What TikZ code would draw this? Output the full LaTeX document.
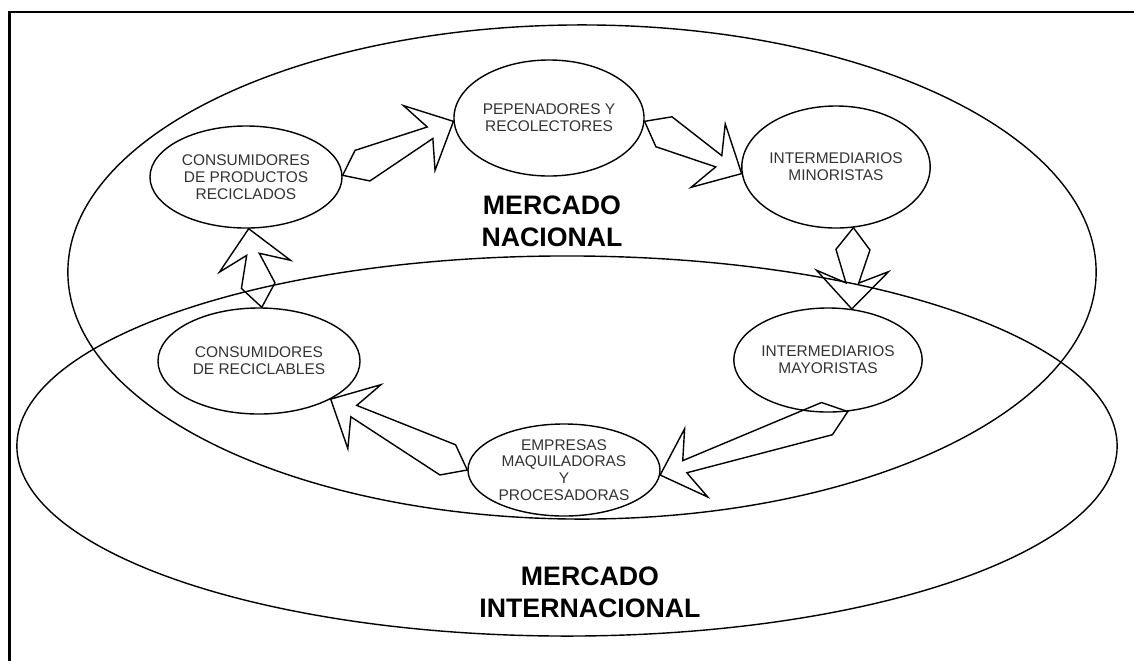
\documentclass[tikz,border=0pt]{standalone}
\usepackage{fontspec}
\setmainfont{Liberation Sans}
\usetikzlibrary{calc,shapes.geometric}

% flecha hueca: cola ancha, cuerpo y punta
\newcommand{\flechaBloque}[2]{%
  \draw[flecha] (#1)
    -- ($(#1)!5.5mm!(#2)!4.25mm!90:(#2)$)
    -- ($(#2)!6.5mm!(#1)!1.6mm!90:(#2)$)
    -- ($(#2)!9.5mm!(#1)!9mm!90:(#2)$)
    -- (#2)
    -- ($(#2)!9.5mm!(#1)!9mm!-90:(#2)$)
    -- ($(#2)!6.5mm!(#1)!1.6mm!-90:(#2)$)
    -- ($(#1)!5.5mm!(#2)!4.25mm!-90:(#2)$)
    -- cycle;}

\begin{document}
\begin{tikzpicture}[x=0.025cm,y=-0.025cm,
    elipse/.style={ellipse,draw,line width=1pt,inner sep=0pt,align=center,
      text=black!80,font=\fontsize{11}{12}\selectfont},
    mercado/.style={ellipse,draw,line width=1pt,inner sep=0pt},
    titulo/.style={align=center,font=\fontsize{19}{23}\selectfont\bfseries},
    flecha/.style={draw,line width=1pt,line join=miter}]
	\useasboundingbox (0,0) rectangle (1134,660);
	\draw[line width=1.6pt] (9.5,12) rectangle (1160,690);

	% mercados
	\node[mercado,minimum width=25.7cm,minimum height=12.35cm] (nac) at (582,272) {};
	\node[mercado,minimum width=27.5cm,minimum height=9.5cm] (int) at (567,446) {};
	\node[titulo] (tnac) at (552,221) {MERCADO\\NACIONAL};
	\node[titulo] (tint) at (590,592) {MERCADO\\INTERNACIONAL};

	% actores
	\node[elipse,minimum width=4.75cm,minimum height=2.9cm] (pep) at (549,118) {PEPENADORES Y\\RECOLECTORES};
	\node[elipse,minimum width=4.15cm,minimum height=3.05cm] (min) at (836,167) {INTERMEDIARIOS\\MINORISTAS};
	\node[elipse,minimum width=4.4cm,minimum height=2.6cm] (may) at (828,360) {INTERMEDIARIOS\\MAYORISTAS};
	\node[elipse,minimum width=4.8cm,minimum height=2.3cm] (emp) at (564,470) {EMPRESAS\\MAQUILADORAS\\Y\\PROCESADORAS};
	\node[elipse,minimum width=5.05cm,minimum height=2.65cm] (crec) at (259,361) {CONSUMIDORES\\DE RECICLABLES};
	\node[elipse,minimum width=4.8cm,minimum height=2.55cm] (cpr) at (246,177) {CONSUMIDORES\\DE PRODUCTOS\\RECICLADOS};

	% ciclo
	\flechaBloque{cpr.1}{pep.182}
	\flechaBloque{pep.-2}{min.184}
	\flechaBloque{min.-74}{may.65}
	\flechaBloque{may.-69}{emp.-3}
	\flechaBloque{emp.180}{crec.-28}
	\flechaBloque{crec.87}{cpr.-87}
\end{tikzpicture}
\end{document}
